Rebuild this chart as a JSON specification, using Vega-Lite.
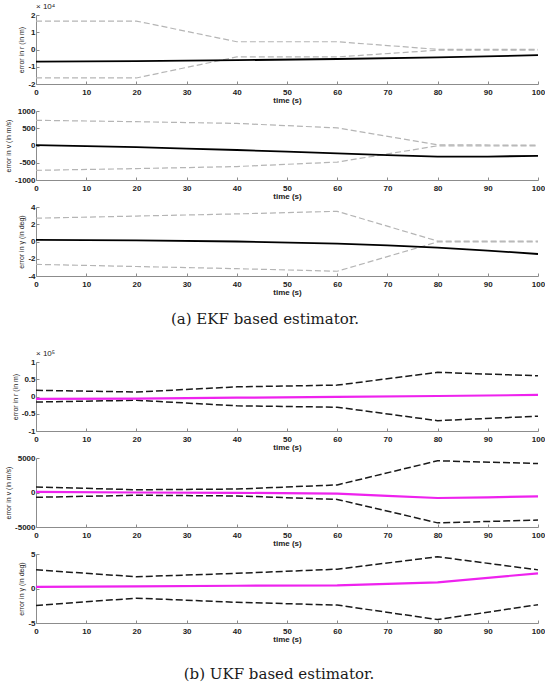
{
  "$schema": "https://vega.github.io/schema/vega-lite/v6.json",
  "autosize": {"type": "pad"},
  "padding": {"left": 4, "top": 3, "right": 0, "bottom": 0},
  "background": "white",
  "bounds": "flush",
  "spacing": 27,
  "datasets": {
    "ekf_r": [
      {"t": 0, "v": 16500, "series": "upper"}, {"t": 20, "v": 16500, "series": "upper"}, {"t": 40, "v": 4500, "series": "upper"}, {"t": 60, "v": 4500, "series": "upper"}, {"t": 80, "v": 100, "series": "upper"}, {"t": 100, "v": 100, "series": "upper"},
      {"t": 0, "v": -16500, "series": "lower"}, {"t": 20, "v": -16500, "series": "lower"}, {"t": 40, "v": -4300, "series": "lower"}, {"t": 60, "v": -4300, "series": "lower"}, {"t": 80, "v": -400, "series": "lower"}, {"t": 100, "v": -400, "series": "lower"},
      {"t": 0, "v": -7000, "series": "estimate"}, {"t": 20, "v": -6700, "series": "estimate"}, {"t": 40, "v": -6200, "series": "estimate"}, {"t": 60, "v": -5500, "series": "estimate"}, {"t": 80, "v": -4600, "series": "estimate"}, {"t": 100, "v": -3300, "series": "estimate"}
    ],
    "ekf_v": [
      {"t": 0, "v": 730, "series": "upper"}, {"t": 20, "v": 690, "series": "upper"}, {"t": 40, "v": 640, "series": "upper"}, {"t": 60, "v": 510, "series": "upper"}, {"t": 80, "v": 20, "series": "upper"}, {"t": 100, "v": 10, "series": "upper"},
      {"t": 0, "v": -720, "series": "lower"}, {"t": 20, "v": -670, "series": "lower"}, {"t": 40, "v": -610, "series": "lower"}, {"t": 60, "v": -480, "series": "lower"}, {"t": 80, "v": -10, "series": "lower"}, {"t": 100, "v": -10, "series": "lower"},
      {"t": 0, "v": 10, "series": "estimate"}, {"t": 10, "v": -20, "series": "estimate"}, {"t": 20, "v": -50, "series": "estimate"}, {"t": 30, "v": -90, "series": "estimate"}, {"t": 40, "v": -130, "series": "estimate"}, {"t": 50, "v": -180, "series": "estimate"}, {"t": 60, "v": -230, "series": "estimate"}, {"t": 70, "v": -280, "series": "estimate"}, {"t": 80, "v": -320, "series": "estimate"}, {"t": 90, "v": -320, "series": "estimate"}, {"t": 100, "v": -300, "series": "estimate"}
    ],
    "ekf_g": [
      {"t": 0, "v": 2.7, "series": "upper"}, {"t": 20, "v": 2.95, "series": "upper"}, {"t": 40, "v": 3.2, "series": "upper"}, {"t": 60, "v": 3.5, "series": "upper"}, {"t": 80, "v": 0.05, "series": "upper"}, {"t": 100, "v": 0.05, "series": "upper"},
      {"t": 0, "v": -2.65, "series": "lower"}, {"t": 20, "v": -2.9, "series": "lower"}, {"t": 40, "v": -3.15, "series": "lower"}, {"t": 60, "v": -3.45, "series": "lower"}, {"t": 80, "v": -0.05, "series": "lower"}, {"t": 100, "v": -0.05, "series": "lower"},
      {"t": 0, "v": 0.2, "series": "estimate"}, {"t": 20, "v": 0.12, "series": "estimate"}, {"t": 40, "v": 0.0, "series": "estimate"}, {"t": 60, "v": -0.25, "series": "estimate"}, {"t": 70, "v": -0.45, "series": "estimate"}, {"t": 80, "v": -0.7, "series": "estimate"}, {"t": 90, "v": -1.05, "series": "estimate"}, {"t": 100, "v": -1.45, "series": "estimate"}
    ],
    "ukf_r": [
      {"t": 0, "v": 18000, "series": "upper"}, {"t": 20, "v": 13000, "series": "upper"}, {"t": 40, "v": 28000, "series": "upper"}, {"t": 60, "v": 33000, "series": "upper"}, {"t": 80, "v": 70000, "series": "upper"}, {"t": 100, "v": 60000, "series": "upper"},
      {"t": 0, "v": -16000, "series": "lower"}, {"t": 20, "v": -11000, "series": "lower"}, {"t": 40, "v": -27000, "series": "lower"}, {"t": 60, "v": -31000, "series": "lower"}, {"t": 80, "v": -70000, "series": "lower"}, {"t": 100, "v": -57000, "series": "lower"},
      {"t": 0, "v": -7000, "series": "estimate"}, {"t": 20, "v": -6000, "series": "estimate"}, {"t": 40, "v": -3500, "series": "estimate"}, {"t": 60, "v": -1000, "series": "estimate"}, {"t": 80, "v": 1500, "series": "estimate"}, {"t": 100, "v": 4500, "series": "estimate"}
    ],
    "ukf_v": [
      {"t": 0, "v": 800, "series": "upper"}, {"t": 20, "v": 400, "series": "upper"}, {"t": 40, "v": 500, "series": "upper"}, {"t": 60, "v": 1100, "series": "upper"}, {"t": 80, "v": 4600, "series": "upper"}, {"t": 100, "v": 4200, "series": "upper"},
      {"t": 0, "v": -700, "series": "lower"}, {"t": 20, "v": -400, "series": "lower"}, {"t": 40, "v": -500, "series": "lower"}, {"t": 60, "v": -1000, "series": "lower"}, {"t": 80, "v": -4400, "series": "lower"}, {"t": 100, "v": -4000, "series": "lower"},
      {"t": 0, "v": 100, "series": "estimate"}, {"t": 20, "v": 0, "series": "estimate"}, {"t": 40, "v": -50, "series": "estimate"}, {"t": 60, "v": -150, "series": "estimate"}, {"t": 70, "v": -500, "series": "estimate"}, {"t": 80, "v": -800, "series": "estimate"}, {"t": 90, "v": -700, "series": "estimate"}, {"t": 100, "v": -550, "series": "estimate"}
    ],
    "ukf_g": [
      {"t": 0, "v": 2.7, "series": "upper"}, {"t": 20, "v": 1.7, "series": "upper"}, {"t": 40, "v": 2.2, "series": "upper"}, {"t": 60, "v": 2.8, "series": "upper"}, {"t": 80, "v": 4.6, "series": "upper"}, {"t": 100, "v": 2.7, "series": "upper"},
      {"t": 0, "v": -2.45, "series": "lower"}, {"t": 20, "v": -1.4, "series": "lower"}, {"t": 40, "v": -2.0, "series": "lower"}, {"t": 60, "v": -2.4, "series": "lower"}, {"t": 80, "v": -4.5, "series": "lower"}, {"t": 100, "v": -2.35, "series": "lower"},
      {"t": 0, "v": 0.25, "series": "estimate"}, {"t": 20, "v": 0.3, "series": "estimate"}, {"t": 40, "v": 0.4, "series": "estimate"}, {"t": 60, "v": 0.45, "series": "estimate"}, {"t": 80, "v": 0.9, "series": "estimate"}, {"t": 100, "v": 2.2, "series": "estimate"}
    ]
  },
  "vconcat": [
    {
      "width": 502, "height": 69,
      "data": {"name": "ekf_r"},
      "title": {"text": "× 10⁴", "anchor": "start", "frame": "group", "orient": "top", "offset": 0, "fontSize": 8, "fontWeight": "normal", "font": "Liberation Sans", "color": "#222"},
      "encoding": {
        "x": {"field": "t", "type": "quantitative", "scale": {"domain": [0, 100], "nice": false}, "axis": {"values": [0, 10, 20, 30, 40, 50, 60, 70, 80, 90, 100], "title": "time (s)"}},
        "y": {"field": "v", "type": "quantitative", "scale": {"domain": [-20000, 20000], "nice": false, "zero": false}, "axis": {"values": [-20000, -10000, 0, 10000, 20000], "labelExpr": "'' + (datum.value / 10000)", "title": "error in r (in m)"}}
      },
      "layer": [
        {"transform": [{"filter": "datum.series != 'estimate'"}], "mark": {"type": "line", "color": "#b5b5b5", "strokeDash": [6, 3], "strokeWidth": 1.2}, "encoding": {"detail": {"field": "series"}}},
        {"transform": [{"filter": "datum.series == 'estimate'"}], "mark": {"type": "line", "color": "#000000", "strokeWidth": 1.8}, "encoding": {}}
      ]
    },
    {
      "width": 502, "height": 69,
      "data": {"name": "ekf_v"},
      "encoding": {
        "x": {"field": "t", "type": "quantitative", "scale": {"domain": [0, 100], "nice": false}, "axis": {"values": [0, 10, 20, 30, 40, 50, 60, 70, 80, 90, 100], "title": "time (s)"}},
        "y": {"field": "v", "type": "quantitative", "scale": {"domain": [-1000, 1000], "nice": false, "zero": false}, "axis": {"values": [-1000, -500, 0, 500, 1000], "labelExpr": "'' + datum.value", "title": "error in v (in m/s)"}}
      },
      "layer": [
        {"transform": [{"filter": "datum.series != 'estimate'"}], "mark": {"type": "line", "color": "#b5b5b5", "strokeDash": [6, 3], "strokeWidth": 1.2}, "encoding": {"detail": {"field": "series"}}},
        {"transform": [{"filter": "datum.series == 'estimate'"}], "mark": {"type": "line", "color": "#000000", "strokeWidth": 1.8}, "encoding": {}}
      ]
    },
    {
      "width": 502, "height": 69,
      "data": {"name": "ekf_g"},
      "encoding": {
        "x": {"field": "t", "type": "quantitative", "scale": {"domain": [0, 100], "nice": false}, "axis": {"values": [0, 10, 20, 30, 40, 50, 60, 70, 80, 90, 100], "title": "time (s)"}},
        "y": {"field": "v", "type": "quantitative", "scale": {"domain": [-4, 4], "nice": false, "zero": false}, "axis": {"values": [-4, -2, 0, 2, 4], "labelExpr": "'' + datum.value", "title": "error in γ (in deg)"}}
      },
      "layer": [
        {"transform": [{"filter": "datum.series != 'estimate'"}], "mark": {"type": "line", "color": "#b5b5b5", "strokeDash": [6, 3], "strokeWidth": 1.2}, "encoding": {"detail": {"field": "series"}}},
        {"transform": [{"filter": "datum.series == 'estimate'"}], "mark": {"type": "line", "color": "#000000", "strokeWidth": 1.8}, "encoding": {}}
      ]
    },
    {
      "width": 502, "height": 32,
      "data": {"values": [{"caption": "(a) EKF based estimator."}]},
      "mark": {"type": "text", "font": "DejaVu Serif", "fontSize": 15, "color": "#1a1a1a", "dx": -22},
      "encoding": {"text": {"field": "caption"}}
    },
    {
      "width": 502, "height": 69,
      "data": {"name": "ukf_r"},
      "title": {"text": "× 10⁵", "anchor": "start", "frame": "group", "orient": "top", "offset": 0, "fontSize": 8, "fontWeight": "normal", "font": "Liberation Sans", "color": "#222"},
      "encoding": {
        "x": {"field": "t", "type": "quantitative", "scale": {"domain": [0, 100], "nice": false}, "axis": {"values": [0, 10, 20, 30, 40, 50, 60, 70, 80, 90, 100], "title": "time (s)"}},
        "y": {"field": "v", "type": "quantitative", "scale": {"domain": [-100000, 100000], "nice": false, "zero": false}, "axis": {"values": [-100000, -50000, 0, 50000, 100000], "labelExpr": "'' + (datum.value / 100000)", "title": "error in r (in m)"}}
      },
      "layer": [
        {"transform": [{"filter": "datum.series != 'estimate'"}], "mark": {"type": "line", "color": "#1a1a1a", "strokeDash": [7, 3], "strokeWidth": 1.5}, "encoding": {"detail": {"field": "series"}}},
        {"transform": [{"filter": "datum.series == 'estimate'"}], "mark": {"type": "line", "color": "#ee22ee", "strokeWidth": 2.2}, "encoding": {}}
      ]
    },
    {
      "width": 502, "height": 69,
      "data": {"name": "ukf_v"},
      "encoding": {
        "x": {"field": "t", "type": "quantitative", "scale": {"domain": [0, 100], "nice": false}, "axis": {"values": [0, 10, 20, 30, 40, 50, 60, 70, 80, 90, 100], "title": "time (s)"}},
        "y": {"field": "v", "type": "quantitative", "scale": {"domain": [-5000, 5000], "nice": false, "zero": false}, "axis": {"values": [-5000, 0, 5000], "labelExpr": "'' + datum.value", "title": "error in v (in m/s)"}}
      },
      "layer": [
        {"transform": [{"filter": "datum.series != 'estimate'"}], "mark": {"type": "line", "color": "#1a1a1a", "strokeDash": [7, 3], "strokeWidth": 1.5}, "encoding": {"detail": {"field": "series"}}},
        {"transform": [{"filter": "datum.series == 'estimate'"}], "mark": {"type": "line", "color": "#ee22ee", "strokeWidth": 2.2}, "encoding": {}}
      ]
    },
    {
      "width": 502, "height": 69,
      "data": {"name": "ukf_g"},
      "encoding": {
        "x": {"field": "t", "type": "quantitative", "scale": {"domain": [0, 100], "nice": false}, "axis": {"values": [0, 10, 20, 30, 40, 50, 60, 70, 80, 90, 100], "title": "time (s)"}},
        "y": {"field": "v", "type": "quantitative", "scale": {"domain": [-5, 5], "nice": false, "zero": false}, "axis": {"values": [-5, 0, 5], "labelExpr": "'' + datum.value", "title": "error in γ (in deg)"}}
      },
      "layer": [
        {"transform": [{"filter": "datum.series != 'estimate'"}], "mark": {"type": "line", "color": "#1a1a1a", "strokeDash": [7, 3], "strokeWidth": 1.5}, "encoding": {"detail": {"field": "series"}}},
        {"transform": [{"filter": "datum.series == 'estimate'"}], "mark": {"type": "line", "color": "#ee22ee", "strokeWidth": 2.2}, "encoding": {}}
      ]
    },
    {
      "width": 502, "height": 32,
      "data": {"values": [{"caption": "(b) UKF based estimator."}]},
      "mark": {"type": "text", "font": "DejaVu Serif", "fontSize": 15, "color": "#1a1a1a", "dx": -8, "dy": 8},
      "encoding": {"text": {"field": "caption"}}
    }
  ],
  "config": {
    "view": {"stroke": null},
    "axis": {
      "grid": false,
      "domainColor": "#8c8c8c",
      "tickColor": "#8c8c8c",
      "tickSize": -3,
      "labelFont": "Liberation Sans",
      "labelFontWeight": "bold",
      "labelFontSize": 8,
      "labelColor": "#222222",
      "labelFlush": false,
      "labelOverlap": false,
      "titleFont": "Liberation Sans",
      "titleColor": "#222222"
    },
    "axisX": {"labelPadding": 7, "titleFontWeight": "bold", "titleFontSize": 8, "titlePadding": 0},
    "axisY": {"labelPadding": 4, "titleFontWeight": "normal", "titleFontSize": 7, "titlePadding": 3}
  }
}
